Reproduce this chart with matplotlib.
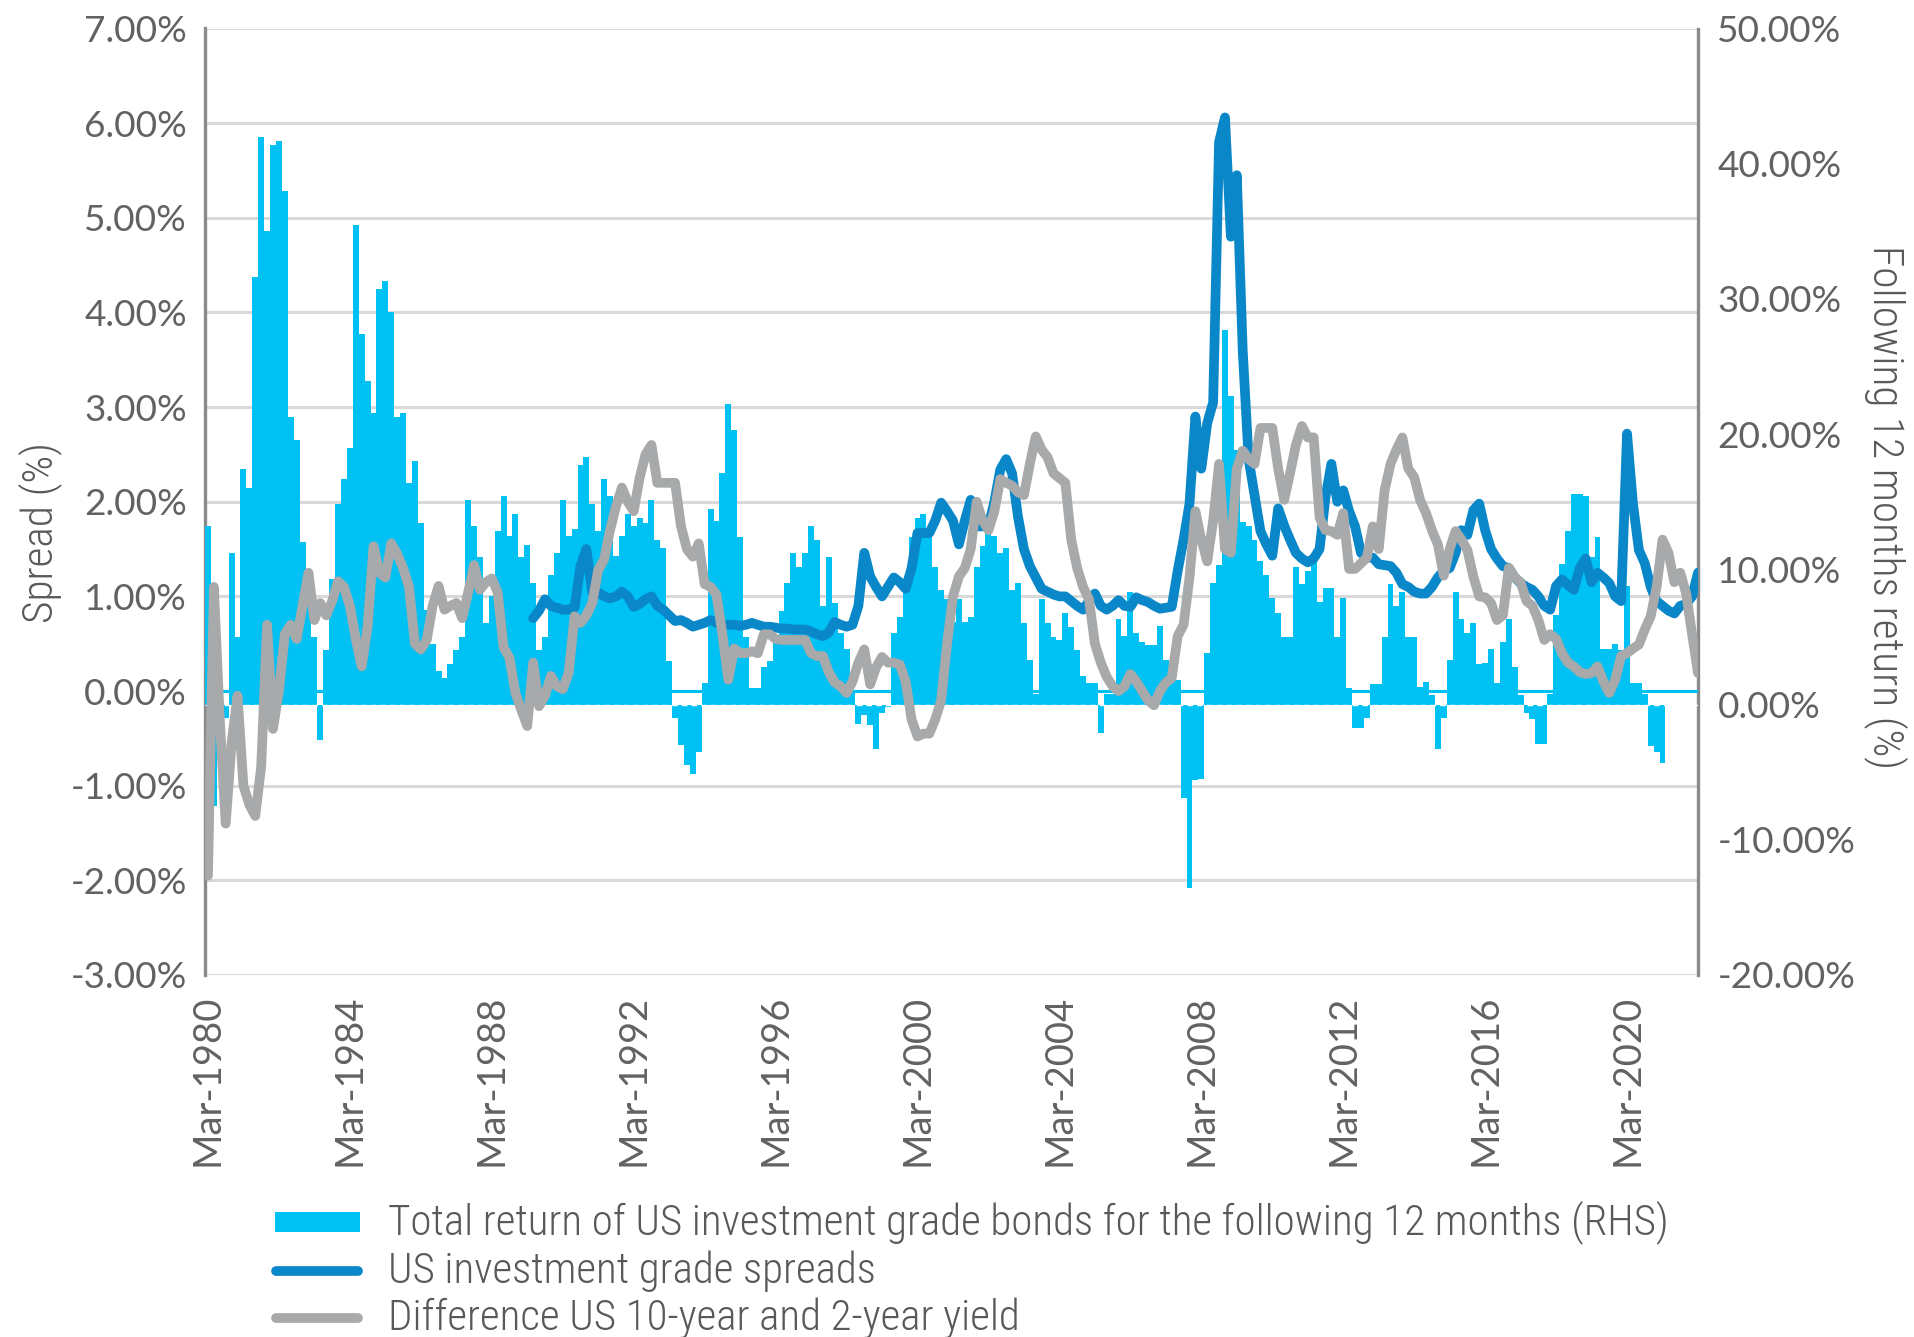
import numpy as np
import matplotlib
matplotlib.use("Agg")
from matplotlib import pyplot as plt
from matplotlib import font_manager
from matplotlib.lines import Line2D
from matplotlib.patches import Rectangle

nan = np.nan

# one value every two months, each row: Mar, May, Jul, Sep, Nov, Jan(next year)
# total return of US IG bonds over the following 12 months (RHS, %)
returns_12m = [
    13.2, -7.5, -3.0, -1.0, 11.2, 5.0,      # 1980
    17.4, 16.0, 31.6, 42.0, 35.0, 41.4,     # 1981
    41.7, 38.0, 21.3, 19.6, 12.0, 10.0,     # 1982
    5.0, -2.6, 4.0, 9.3, 14.8, 16.7,        # 1983
    19.0, 35.5, 27.4, 23.9, 21.6, 30.7,     # 1984
    31.3, 29.0, 21.3, 21.6, 16.4, 18.0,     # 1985
    13.4, 7.0, 4.5, 2.5, 2.0, 3.0,          # 1986
    4.0, 5.0, 15.1, 13.2, 10.9, 6.0,        # 1987
    8.0, 12.8, 15.4, 12.5, 14.1, 10.9,      # 1988
    11.8, 9.0, 4.0, 5.0, 9.6, 11.2,         # 1989
    15.1, 12.5, 13.0, 17.7, 18.3, 14.8,     # 1990
    12.8, 16.7, 15.4, 11.0, 12.5, 14.1,     # 1991
    13.2, 13.8, 13.4, 15.1, 12.2, 11.6,     # 1992
    3.2, -1.0, -3.0, -4.5, -5.1, -3.5,      # 1993
    1.6, 14.5, 13.6, 17.1, 22.2, 20.3,      # 1994
    12.4, 5.0, 1.2, 1.2, 2.8, 3.2,          # 1995
    5.0, 6.9, 9.0, 11.2, 10.2, 11.2,        # 1996
    13.2, 12.2, 7.3, 10.9, 7.5, 5.3,        # 1997
    4.1, 1.1, -1.4, -0.8, -1.5, -3.3,       # 1998
    -0.6, -0.2, 5.3, 6.5, 9.0, 12.4,        # 1999
    13.8, 14.1, 12.6, 10.2, 8.5, 7.8,       # 2000
    6.1, 7.8, 6.1, 6.5, 10.2, 11.7,         # 2001
    13.9, 12.5, 11.2, 11.6, 8.5, 9.0,       # 2002
    6.0, 3.3, 0.8, 7.8, 6.0, 5.0,           # 2003
    4.8, 6.8, 5.7, 4.0, 2.1, 1.6,           # 2004
    1.6, -2.1, 0.8, 0.8, 6.3, 5.1,          # 2005
    8.3, 5.3, 4.6, 4.4, 4.4, 5.8,           # 2006
    3.3, 3.1, 1.8, -6.9, -13.6, -5.6,       # 2007
    -5.5, 3.8, 9.0, 10.3, 27.7, 22.8,       # 2008
    18.8, 13.5, 13.2, 12.2, 10.6, 9.6,      # 2009
    7.9, 6.8, 5.0, 5.0, 10.2, 8.9,          # 2010
    9.9, 10.6, 7.6, 8.6, 8.6, 5.0,          # 2011
    7.9, 1.2, -1.7, -1.7, -1.0, 1.5,        # 2012
    1.5, 5.0, 8.9, 7.3, 8.3, 5.0,           # 2013
    5.0, 1.3, 1.7, 0.7, -3.3, -1.0,         # 2014
    3.3, 8.3, 6.3, 5.3, 6.0, 3.0,           # 2015
    3.1, 4.1, 1.6, 4.6, 6.3, 2.8,           # 2016
    0.7, -0.6, -1.1, -2.9, -2.9, 0.8,       # 2017
    6.6, 10.4, 12.8, 15.6, 15.6, 15.4,      # 2018
    10.9, 12.4, 4.1, 4.1, 4.5, 4.0,         # 2019
    8.8, 1.6, 1.6, 0.8, -3.1, -3.5,         # 2020
    -4.3, nan, nan, nan, nan, nan,          # 2021
    nan,                                    # Mar-2022
]

# US investment grade spreads (LHS, %)
ig_spread = [nan] * 54 + [
    nan, 0.77, 0.85, 0.97, 0.90, 0.88,      # 1989
    0.86, 0.86, 0.88, 1.32, 1.50, 1.04,     # 1990
    1.04, 1.00, 0.98, 1.00, 1.05, 1.00,     # 1991
    0.89, 0.92, 0.97, 1.00, 0.90, 0.86,     # 1992
    0.80, 0.74, 0.75, 0.72, 0.68, 0.70,     # 1993
    0.72, 0.75, 0.72, 0.70, 0.70, 0.70,     # 1994
    0.69, 0.70, 0.72, 0.70, 0.68, 0.68,     # 1995
    0.67, 0.66, 0.66, 0.65, 0.65, 0.65,     # 1996
    0.63, 0.60, 0.58, 0.62, 0.73, 0.70,     # 1997
    0.68, 0.70, 0.90, 1.46, 1.21, 1.10,     # 1998
    1.00, 1.10, 1.20, 1.15, 1.08, 1.30,     # 1999
    1.67, 1.67, 1.67, 1.80, 1.99, 1.90,     # 2000
    1.80, 1.55, 1.80, 2.02, 1.74, 1.74,     # 2001
    1.74, 2.00, 2.34, 2.45, 2.30, 1.84,     # 2002
    1.50, 1.32, 1.20, 1.08, 1.05, 1.02,     # 2003
    1.00, 1.00, 0.95, 0.90, 0.86, 0.95,     # 2004
    1.03, 0.90, 0.86, 0.90, 0.96, 0.90,     # 2005
    0.89, 0.99, 0.96, 0.94, 0.90, 0.87,     # 2006
    0.88, 0.89, 1.27, 1.60, 1.98, 2.90,     # 2007
    2.35, 2.83, 3.05, 5.80, 6.06, 4.80,     # 2008
    5.45, 3.60, 2.45, 2.07, 1.69, 1.55,     # 2009
    1.43, 1.93, 1.75, 1.60, 1.46, 1.40,     # 2010
    1.36, 1.40, 1.50, 2.05, 2.40, 2.00,     # 2011
    2.12, 1.90, 1.74, 1.46, 1.41, 1.41,     # 2012
    1.34, 1.33, 1.32, 1.25, 1.13, 1.10,     # 2013
    1.05, 1.03, 1.03, 1.10, 1.20, 1.27,     # 2014
    1.30, 1.46, 1.70, 1.65, 1.91, 1.98,     # 2015
    1.70, 1.50, 1.40, 1.32, 1.30, 1.20,     # 2016
    1.14, 1.10, 1.07, 1.00, 0.90, 0.86,     # 2017
    1.11, 1.18, 1.12, 1.07, 1.30, 1.40,     # 2018
    1.15, 1.25, 1.20, 1.14, 1.00, 0.95,     # 2019
    2.72, 1.98, 1.49, 1.35, 1.10, 0.95,     # 2020
    0.90, 0.85, 0.82, 0.90, 0.92, 1.00,     # 2021
    1.25,                                   # Mar-2022
]

# difference US 10-year and 2-year yield (LHS, %)
curve_10y2y = [
    -1.95, 1.10, -0.30, -1.40, -0.55, -0.05,  # 1980
    -1.00, -1.20, -1.32, -0.80, 0.70, -0.40,  # 1981
    0.00, 0.60, 0.70, 0.55, 0.90, 1.25,       # 1982
    0.75, 0.93, 0.80, 0.95, 1.16, 1.10,       # 1983
    0.90, 0.55, 0.26, 0.68, 1.53, 1.25,       # 1984
    1.20, 1.56, 1.45, 1.30, 1.10, 0.50,       # 1985
    0.44, 0.54, 0.90, 1.11, 0.86, 0.90,       # 1986
    0.93, 0.77, 1.04, 1.33, 1.07, 1.15,       # 1987
    1.19, 1.04, 0.46, 0.35, -0.02, -0.20,     # 1988
    -0.37, 0.30, -0.16, -0.05, 0.16, 0.05,    # 1989
    0.02, 0.19, 0.79, 0.72, 0.80, 0.93,       # 1990
    1.28, 1.39, 1.70, 1.95, 2.15, 2.00,       # 1991
    1.90, 2.25, 2.50, 2.60, 2.20, 2.20,       # 1992
    2.20, 2.20, 1.74, 1.50, 1.42, 1.56,       # 1993
    1.13, 1.10, 1.02, 0.60, 0.12, 0.45,       # 1994
    0.40, 0.40, 0.42, 0.40, 0.60, 0.60,       # 1995
    0.55, 0.54, 0.54, 0.54, 0.54, 0.54,       # 1996
    0.40, 0.37, 0.37, 0.20, 0.09, 0.05,       # 1997
    -0.02, 0.10, 0.30, 0.44, 0.07, 0.25,      # 1998
    0.36, 0.30, 0.30, 0.28, 0.10, -0.30,      # 1999
    -0.48, -0.45, -0.45, -0.30, -0.10, 0.50,  # 2000
    1.00, 1.21, 1.30, 1.50, 2.00, 1.80,       # 2001
    1.70, 1.90, 2.24, 2.20, 2.17, 2.10,       # 2002
    2.07, 2.40, 2.69, 2.55, 2.47, 2.30,       # 2003
    2.25, 2.20, 1.60, 1.30, 1.10, 0.97,       # 2004
    0.50, 0.30, 0.15, 0.05, 0.00, 0.05,       # 2005
    0.18, 0.10, 0.00, -0.10, -0.15, 0.00,     # 2006
    0.09, 0.14, 0.58, 0.70, 1.20, 1.90,       # 2007
    1.60, 1.37, 1.80, 2.40, 1.50, 1.46,       # 2008
    2.35, 2.54, 2.45, 2.40, 2.78, 2.78,       # 2009
    2.78, 2.35, 2.02, 2.30, 2.60, 2.80,       # 2010
    2.68, 2.68, 1.83, 1.70, 1.69, 1.65,       # 2011
    1.88, 1.29, 1.29, 1.35, 1.41, 1.74,       # 2012
    1.50, 2.12, 2.40, 2.55, 2.68, 2.35,       # 2013
    2.26, 2.02, 1.88, 1.70, 1.55, 1.22,       # 2014
    1.50, 1.69, 1.60, 1.49, 1.21, 1.00,       # 2015
    0.99, 0.93, 0.75, 0.80, 1.30, 1.20,       # 2016
    1.15, 0.95, 0.90, 0.75, 0.54, 0.60,       # 2017
    0.55, 0.40, 0.30, 0.26, 0.20, 0.18,       # 2018
    0.19, 0.26, 0.10, -0.02, 0.12, 0.37,      # 2019
    0.40, 0.45, 0.49, 0.65, 0.79, 1.10,       # 2020
    1.60, 1.46, 1.15, 1.25, 1.03, 0.60,       # 2021
    0.19,                                     # Mar-2022
]

tick_years = list(range(1980, 2021, 4))
tick_labels = [f"Mar-{y}" for y in tick_years]
left_ticks = list(range(-3, 8))
right_ticks = list(range(-20, 51, 10))

legend_labels = [
    "Total return of US investment grade bonds for the following 12 months (RHS)",
    "US investment grade spreads",
    "Difference US 10-year and 2-year yield",
]

CYAN = "#00c1f3"
BLUE = "#0a87c8"
GREY = "#a7a9aa"
GRID = "#d9d9d9"
SPINE = "#8a8a8b"
TEXT = "#595959"
TICK_TEXT = "#626262"

names = {f.name for f in font_manager.fontManager.ttflist}


def pick(*fams):
    for f in fams:
        if f in names:
            return f
    return "DejaVu Sans"


TICK_FONT = pick("Lato", "Open Sans", "DejaVu Sans")
NARROW_FONT = pick("Roboto Condensed", "Liberation Sans Narrow", "Open Sans Condensed", "Lato")

W, H = 1914, 1337
fig = plt.figure(figsize=(W / 100, H / 100), dpi=100)
renderer = fig.canvas.get_renderer()


def fit(txt, target):
    # scale the font so the text spans the wanted number of pixels
    bb = txt.get_window_extent(renderer)
    length = max(bb.width, bb.height)
    txt.set_fontsize(txt.get_fontsize() * target / length)
    return txt.get_fontsize()


months = np.arange(len(returns_12m)) * 2.0

ax = fig.add_axes([205 / W, 1 - 975 / H, (1698 - 205) / W, (975 - 28.5) / H])
ax2 = ax.twinx()   # bars, right scale
ax3 = ax.twinx()   # lines, left scale

ax2.bar(months, returns_12m, width=2.0, color=CYAN, linewidth=0, zorder=2)
ax2.axhline(0, color="white", lw=1.0, ls=(0, (4, 3)), zorder=3)

ax3.axhline(0, color=CYAN, lw=2.2, zorder=1)
ax3.plot(months, ig_spread, color=BLUE, lw=7, solid_capstyle="round",
         solid_joinstyle="round", zorder=3)
ax3.plot(months, curve_10y2y, color=GREY, lw=7, solid_capstyle="round",
         solid_joinstyle="round", zorder=4)

ax.set_xlim(-1, 504)
ax.set_ylim(-3, 7)
ax3.set_ylim(-3, 7)
ax2.set_ylim(-20, 50)

ax.set_yticks(left_ticks)
ax.set_yticklabels([f"{v:.2f}%" for v in left_ticks])
ax2.set_yticks(right_ticks)
ax2.set_yticklabels([f"{v:.2f}%" for v in right_ticks])
ax3.set_yticks([])
ax.set_xticks([(y - 1980) * 12 for y in tick_years])
ax.set_xticklabels(tick_labels, rotation=90)

ax.yaxis.grid(True, color=GRID, lw=2.2)
ax.set_axisbelow(True)

for a in (ax, ax2, ax3):
    for s in a.spines.values():
        s.set_visible(False)
ax.spines["left"].set_visible(True)
ax.spines["left"].set_color(SPINE)
ax.spines["left"].set_linewidth(2.4)
ax2.spines["right"].set_visible(True)
ax2.spines["right"].set_color(SPINE)
ax2.spines["right"].set_linewidth(2.4)

ax.tick_params(axis="y", length=0, pad=13, labelcolor=TICK_TEXT)
ax.tick_params(axis="x", length=0, pad=14, labelcolor=TICK_TEXT)
ax2.tick_params(axis="y", length=0, pad=14, labelcolor=TICK_TEXT)
xlabs = ax.get_xticklabels()
ylabs = ax.get_yticklabels()
rlabs = ax2.get_yticklabels()
for lab in xlabs + ylabs + rlabs:
    lab.set_family(TICK_FONT)
    lab.set_fontweight("normal")
    lab.set_fontsize(26)
sx = fit(xlabs[0], 171)
for lab in xlabs:
    lab.set_fontsize(sx)
sy = fit(ylabs[-1], 103)
for lab in ylabs + rlabs:
    lab.set_fontsize(sy)

# axis titles
yl = ax.set_ylabel("Spread (%)", family=NARROW_FONT, fontweight="light",
                   color=TEXT, fontsize=26, va="center")
ax.yaxis.set_label_coords(-0.1105, 0.468)
fit(yl, 181)
yr = ax2.set_ylabel("Following 12 months return (%)", family=NARROW_FONT,
                    fontweight="light", color=TEXT, fontsize=26, rotation=270,
                    va="center")
ax2.yaxis.set_label_coords(1.126, 0.494)
fit(yr, 525)

# legend below the chart
rows_y = [1222, 1271, 1318]
fig.add_artist(Rectangle((275 / W, 1 - 1232 / H), 85 / W, 20 / H,
                         transform=fig.transFigure, color=CYAN, lw=0))
for yy, col in zip(rows_y[1:], (BLUE, GREY)):
    fig.add_artist(Line2D([276 / W, 358 / W], [1 - yy / H] * 2, color=col, lw=7,
                          solid_capstyle="round", transform=fig.transFigure))
texts = []
for yy, lab in zip(rows_y, legend_labels):
    texts.append(fig.text(388 / W, 1 - yy / H, lab, family=NARROW_FONT,
                          fontweight="light", color=TEXT, fontsize=26,
                          va="center", ha="left"))
size = fit(texts[0], 1284)
for t in texts[1:]:
    t.set_fontsize(size)

fig.savefig("out.png", dpi=100)
